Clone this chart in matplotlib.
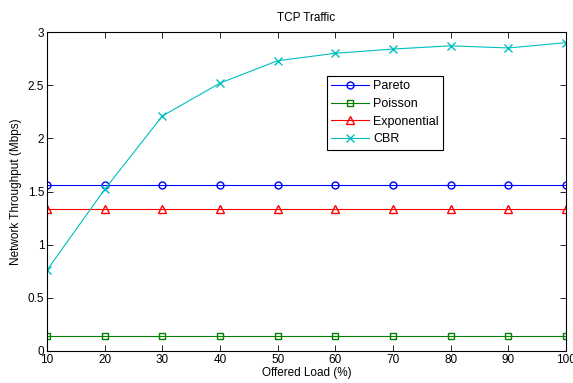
import matplotlib

matplotlib.use("Agg")

import matplotlib.pyplot as plt

load = [10, 20, 30, 40, 50, 60, 70, 80, 90, 100]
pareto = [1.56] * 10
poisson = [0.14] * 10
exponential = [1.335] * 10
cbr = [0.76, 1.52, 2.21, 2.52, 2.73, 2.80, 2.84, 2.87, 2.85, 2.90]

plt.rcParams["font.family"] = ["Liberation Sans", "DejaVu Sans"]
plt.rcParams["font.size"] = 8.5

fig = plt.figure(figsize=(5.73, 3.83), dpi=100)
ax = fig.add_axes([0.082, 0.0836, 0.906, 0.8328])

ms = 5
ax.plot(load, pareto, color="#0000ff", marker="o", mfc="none", ms=ms, lw=0.8, label="Pareto")
ax.plot(load, poisson, color="#008000", marker="s", mfc="none", ms=ms, lw=0.8, label="Poisson")
ax.plot(load, exponential, color="#ff0000", marker="^", mfc="none", ms=5.5, lw=0.8, label="Exponential")
ax.plot(load, cbr, color="#00bfbf", marker="x", ms=6, lw=0.8, label="CBR")

ax.set_xlim(10, 100)
ax.set_ylim(0, 3)
ax.set_xticks(load)
ax.set_yticks([0, 0.5, 1, 1.5, 2, 2.5, 3])
ax.set_yticklabels(["0", "0.5", "1", "1.5", "2", "2.5", "3"])
ax.tick_params(direction="in", top=True, right=True, length=4, width=0.6, pad=2)
for s in ax.spines.values():
    s.set_linewidth(0.8)

ax.set_xlabel("Offered Load (%)", labelpad=1)
ax.set_ylabel("Network Throughput (Mbps)", labelpad=4)
ax.set_title("TCP Traffic", fontsize=8.5, pad=8)

leg = ax.legend(loc="upper left", bbox_to_anchor=(0.539, 0.862), borderaxespad=0,
                fancybox=False, edgecolor="black", framealpha=1, borderpad=0.35,
                labelspacing=0.45, handlelength=3.0, handletextpad=0.35, fontsize=9)
leg.get_frame().set_linewidth(0.8)

fig.savefig("out.png", dpi=100)
